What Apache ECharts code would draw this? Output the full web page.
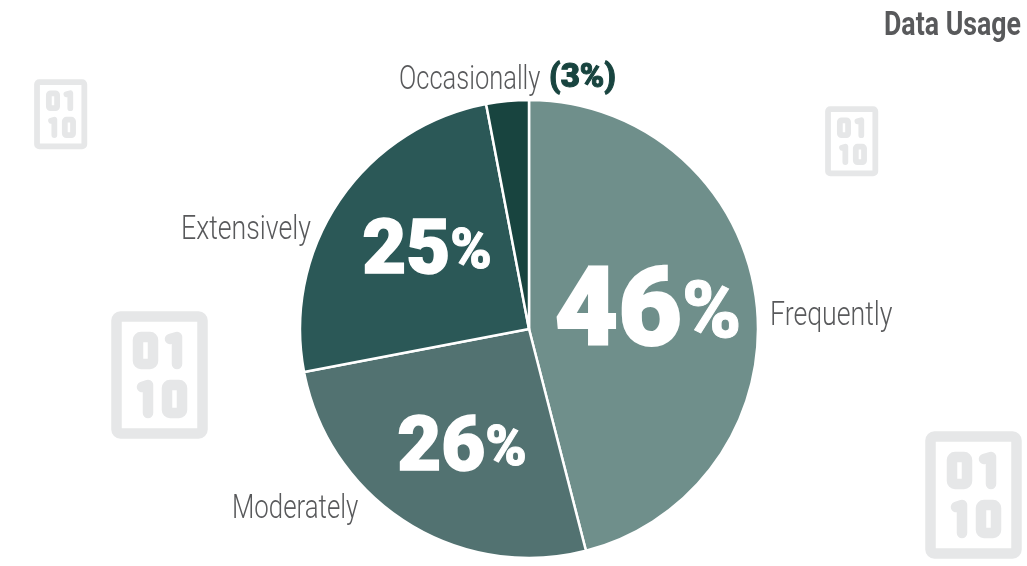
<!DOCTYPE html>
<html><head><meta charset="utf-8">
<style>html,body{margin:0;padding:0;background:#fff}#c{width:1027px;height:566px}</style>
<script src="https://cdn.jsdelivr.net/npm/echarts@6/dist/echarts.min.js"></script>
</head><body><div id="c"></div>
<script>
const categories = ['Frequently','Moderately','Extensively','Occasionally'];
const values = [46,26,25,3];
const colors = ['#6F8F8B','#527271','#2B5857','#18443F'];
const titleText = 'Data Usage';
const font = 'Roboto,sans-serif';
const grey = '#58595B';
const outsidePos = {Frequently:[770,316,0.785],Moderately:[232,509,0.76],Extensively:[181,230,0.785],Occasionally:[399,80,0.75]};
const insidePos = {Frequently:[648,317,'num46','pct46'],Moderately:[462,451,'num','pct'],Extensively:[427,254,'num','pct']};
const chart = echarts.init(document.getElementById('c'));
function icon(x,y,s){
  const st={stroke:'#E6E7E8',fill:'none',lineWidth:10.5,lineCap:'round',lineJoin:'round'};
  return {type:'group',x,y,scaleX:s,scaleY:s,silent:true,z:0,children:[
    {type:'rect',shape:{x:5.5,y:5.5,width:86,height:117,r:4},style:st},
    {type:'rect',shape:{x:27,y:26,width:15,height:27,r:3},style:st},
    {type:'polyline',shape:{points:[[59,28],[66,26],[66,53]]},style:st},
    {type:'polyline',shape:{points:[[31,76],[37,74],[37,102]]},style:st},
    {type:'rect',shape:{x:56,y:74,width:15,height:28,r:3},style:st}
  ]};
}
function scaledText(x,y,sx,style){
  return {type:'group',x,y,scaleX:sx,scaleY:1,silent:true,z:5,children:[{type:'text',x:0,y:0,style}]};
}
function outsideLabel(name){
  const p=outsidePos[name];
  return scaledText(p[0],p[1],p[2],{text:name,fontFamily:font,fontSize:34,fontWeight:300,fill:grey,textAlign:'left',textVerticalAlign:'middle'});
}
const data=categories.map((n,i)=>({name:n,value:values[i],itemStyle:{color:colors[i]}}));
const heavyNum=(size,bw)=>({fontFamily:font,fontWeight:900,fontSize:size,color:'#fff',textBorderColor:'#fff',textBorderWidth:bw});
chart.setOption({
  animation:false,
  graphic:[icon(34,79,0.55),icon(825,106,0.55),icon(111,311,1),icon(925,431,1),
    scaledText(1021,27,0.81,{text:titleText,fontFamily:font,fontSize:33,fontWeight:'bold',fill:grey,textAlign:'right',textVerticalAlign:'middle'}),
    ...categories.map(outsideLabel),
    scaledText(549,79,1.0,{text:'('+values[3]+'%)',fontFamily:font,fontSize:33,fontWeight:900,fill:colors[3],stroke:colors[3],lineWidth:1,textAlign:'left',textVerticalAlign:'middle'})],
  series:[{type:'pie',center:[529,329],radius:[0,229],startAngle:90,clockwise:true,animation:false,silent:true,
    itemStyle:{borderColor:'#fff',borderWidth:2.5},data,labelLine:{show:false},
    label:{show:true,position:'inside',
      formatter:p=>{const o=insidePos[p.name];return o?'{'+o[2]+'|'+p.value+'}{'+o[3]+'|%}':'';},
      rich:{num46:heavyNum(110,2),pct46:heavyNum(80,1),num:heavyNum(76,1.5),pct:heavyNum(56,1)}},
    labelLayout:p=>{const o=insidePos[categories[p.dataIndex]];return o?{x:o[0],y:o[1],align:'center',verticalAlign:'middle'}:{};}}]
});
</script></body></html>
